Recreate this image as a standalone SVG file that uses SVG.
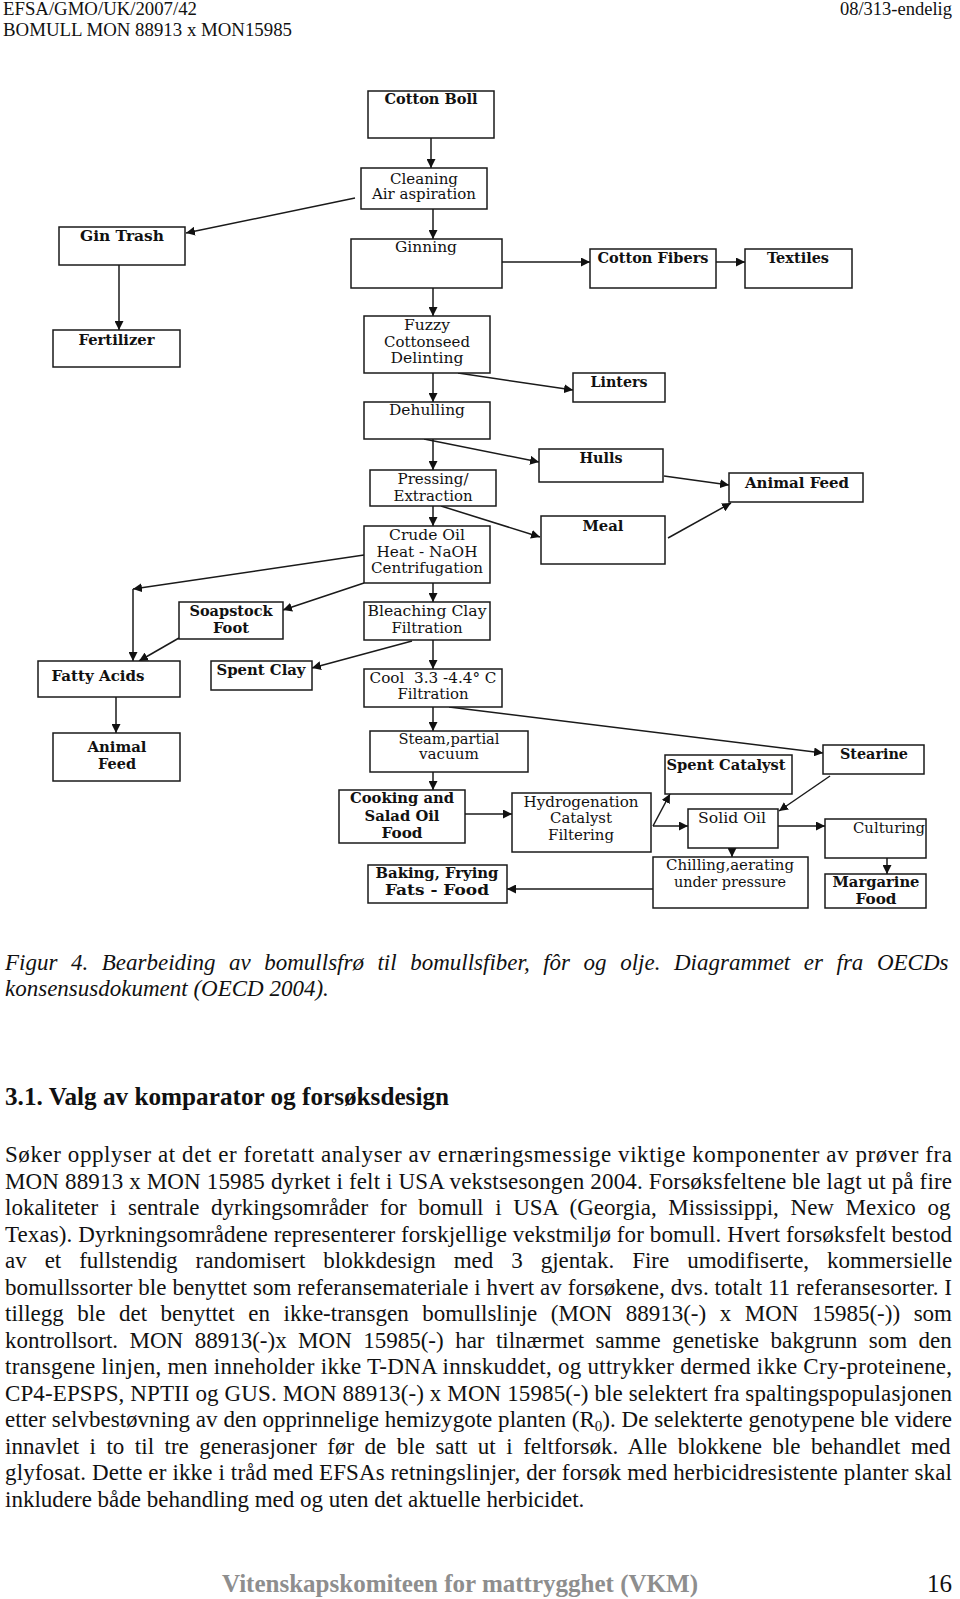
<svg xmlns="http://www.w3.org/2000/svg" width="960" height="1599" viewBox="0 0 960 1599">
<style>
.bx{fill:#fff;stroke:#1a1a1a;stroke-width:1.5}
.r{font-family:"DejaVu Serif",serif;font-size:15px;fill:#111;text-anchor:middle}
.b{font-family:"DejaVu Serif",serif;font-size:15px;font-weight:bold;fill:#111;text-anchor:middle}
.c line{stroke:#1a1a1a;stroke-width:1.5;marker-end:url(#ah)}
.p{font-family:"Liberation Serif","Times New Roman",serif;font-size:23px;fill:#111}
.h{font-family:"Liberation Serif","Times New Roman",serif;font-size:18.5px;fill:#111}
</style>
<defs>
<marker id="ah" viewBox="0 0 10 10" refX="10" refY="5" markerWidth="9" markerHeight="9" markerUnits="userSpaceOnUse" orient="auto"><path d="M0,0L10,5L0,10z" fill="#111"/></marker>
</defs>
<rect width="960" height="1599" fill="#fff"/>
<g id="header">
<text class="h" x="3" y="15" textLength="194" lengthAdjust="spacingAndGlyphs">EFSA/GMO/UK/2007/42</text>
<text class="h" x="3" y="36" textLength="289" lengthAdjust="spacingAndGlyphs">BOMULL MON 88913 x MON15985</text>
<text class="h" x="952" y="15" text-anchor="end">08/313-endelig</text>
</g>
<g class="c" id="connectors">
<line x1="431" y1="138" x2="431" y2="168"/>
<line x1="355" y1="198" x2="186" y2="233"/>
<line x1="433" y1="209" x2="433" y2="239"/>
<line x1="502" y1="262" x2="590" y2="262"/>
<line x1="716" y1="262" x2="745" y2="262"/>
<line x1="433" y1="288" x2="433" y2="316"/>
<line x1="119" y1="265" x2="119" y2="330"/>
<line x1="458" y1="373" x2="573" y2="390"/>
<line x1="433" y1="373" x2="433" y2="402"/>
<line x1="424" y1="439" x2="539" y2="462"/>
<line x1="433" y1="439" x2="433" y2="470"/>
<line x1="441" y1="506" x2="540" y2="537"/>
<line x1="664" y1="476" x2="729" y2="485"/>
<line x1="668" y1="538" x2="731" y2="503"/>
<line x1="433" y1="506" x2="433" y2="526"/>
<line x1="364" y1="555" x2="133" y2="589"/>
<line x1="133" y1="589" x2="133" y2="661"/>
<line x1="364" y1="583" x2="283" y2="610"/>
<line x1="179" y1="638" x2="139" y2="661"/>
<line x1="433" y1="583" x2="433" y2="602"/>
<line x1="412" y1="641" x2="312" y2="668"/>
<line x1="433" y1="640" x2="433" y2="669"/>
<line x1="116" y1="697" x2="116" y2="733"/>
<line x1="433" y1="707" x2="433" y2="731"/>
<line x1="449" y1="707" x2="823" y2="753"/>
<line x1="433" y1="772" x2="433" y2="790"/>
<line x1="465" y1="814" x2="512" y2="814"/>
<line x1="653" y1="826" x2="670" y2="794"/>
<line x1="653" y1="826" x2="688" y2="826"/>
<line x1="830" y1="776" x2="779" y2="811"/>
<line x1="778" y1="826" x2="825" y2="826"/>
<line x1="732" y1="848" x2="732" y2="857"/>
<line x1="653" y1="889" x2="507" y2="889"/>
<line x1="887" y1="858" x2="887" y2="874"/>
</g>
<g id="n-cottonboll"><rect class="bx" x="368" y="91" width="126" height="47"/><text class="b" x="431" y="104" textLength="93" lengthAdjust="spacingAndGlyphs">Cotton Boll</text></g>
<g id="n-cleaning"><rect class="bx" x="361" y="168" width="126" height="41"/><text class="r" x="424" y="183.5" textLength="68" lengthAdjust="spacingAndGlyphs">Cleaning</text><text class="r" x="424" y="199" textLength="104" lengthAdjust="spacingAndGlyphs">Air aspiration</text></g>
<g id="n-gintrash"><rect class="bx" x="59" y="227" width="126" height="38"/><text class="b" x="122" y="241" textLength="84" lengthAdjust="spacingAndGlyphs">Gin Trash</text></g>
<g id="n-fertilizer"><rect class="bx" x="53" y="330" width="127" height="37"/><text class="b" x="116.5" y="345" textLength="76" lengthAdjust="spacingAndGlyphs">Fertilizer</text></g>
<g id="n-ginning"><rect class="bx" x="351" y="239" width="151" height="49"/><text class="r" x="426" y="252" textLength="62" lengthAdjust="spacingAndGlyphs">Ginning</text></g>
<g id="n-cottonfibers"><rect class="bx" x="590" y="249" width="126" height="39"/><text class="b" x="653" y="263" textLength="111" lengthAdjust="spacingAndGlyphs">Cotton Fibers</text></g>
<g id="n-textiles"><rect class="bx" x="745" y="249" width="107" height="39"/><text class="b" x="798" y="263" textLength="62" lengthAdjust="spacingAndGlyphs">Textiles</text></g>
<g id="n-fuzzy"><rect class="bx" x="364" y="316" width="126" height="57"/><text class="r" x="427" y="330" textLength="46" lengthAdjust="spacingAndGlyphs">Fuzzy</text><text class="r" x="427" y="346.5" textLength="86" lengthAdjust="spacingAndGlyphs">Cottonseed</text><text class="r" x="427" y="363" textLength="73" lengthAdjust="spacingAndGlyphs">Delinting</text></g>
<g id="n-linters"><rect class="bx" x="573" y="373" width="92" height="29"/><text class="b" x="619" y="387" textLength="57" lengthAdjust="spacingAndGlyphs">Linters</text></g>
<g id="n-dehulling"><rect class="bx" x="364" y="402" width="126" height="37"/><text class="r" x="427" y="415" textLength="76" lengthAdjust="spacingAndGlyphs">Dehulling</text></g>
<g id="n-hulls"><rect class="bx" x="539" y="449" width="124" height="33"/><text class="b" x="601" y="463" textLength="43" lengthAdjust="spacingAndGlyphs">Hulls</text></g>
<g id="n-animalfeed1"><rect class="bx" x="729" y="473" width="134" height="29"/><text class="b" x="797" y="488" textLength="104" lengthAdjust="spacingAndGlyphs">Animal Feed</text></g>
<g id="n-pressing"><rect class="bx" x="370" y="470" width="126" height="36"/><text class="r" x="433" y="484" textLength="71" lengthAdjust="spacingAndGlyphs">Pressing/</text><text class="r" x="433" y="501" textLength="79" lengthAdjust="spacingAndGlyphs">Extraction</text></g>
<g id="n-meal"><rect class="bx" x="541" y="516" width="124" height="48"/><text class="b" x="603" y="531" textLength="41" lengthAdjust="spacingAndGlyphs">Meal</text></g>
<g id="n-crudeoil"><rect class="bx" x="364" y="526" width="126" height="57"/><text class="r" x="427" y="540" textLength="76" lengthAdjust="spacingAndGlyphs">Crude Oil</text><text class="r" x="427" y="557" textLength="101" lengthAdjust="spacingAndGlyphs">Heat - NaOH</text><text class="r" x="427" y="573" textLength="112" lengthAdjust="spacingAndGlyphs">Centrifugation</text></g>
<g id="n-soapstock"><rect class="bx" x="179" y="602" width="104" height="37"/><text class="b" x="231" y="616" textLength="83" lengthAdjust="spacingAndGlyphs">Soapstock</text><text class="b" x="231" y="633" textLength="36" lengthAdjust="spacingAndGlyphs">Foot</text></g>
<g id="n-bleaching"><rect class="bx" x="364" y="602" width="126" height="38"/><text class="r" x="427" y="616" textLength="119" lengthAdjust="spacingAndGlyphs">Bleaching Clay</text><text class="r" x="427" y="633" textLength="71" lengthAdjust="spacingAndGlyphs">Filtration</text></g>
<g id="n-fattyacids"><rect class="bx" x="38" y="661" width="142" height="36"/><text class="b" x="98" y="681" textLength="93" lengthAdjust="spacingAndGlyphs">Fatty Acids</text></g>
<g id="n-spentclay"><rect class="bx" x="211" y="661" width="101" height="29"/><text class="b" x="261" y="675" textLength="89" lengthAdjust="spacingAndGlyphs">Spent Clay</text></g>
<g id="n-cool"><rect class="bx" x="364" y="669" width="138" height="38"/><text class="r" x="433" y="683" textLength="127" lengthAdjust="spacingAndGlyphs" xml:space="preserve">Cool  3.3 -4.4° C</text><text class="r" x="433" y="699" textLength="71" lengthAdjust="spacingAndGlyphs">Filtration</text></g>
<g id="n-animalfeed2"><rect class="bx" x="53" y="733" width="127" height="48"/><text class="b" x="117" y="752" textLength="59" lengthAdjust="spacingAndGlyphs">Animal</text><text class="b" x="117" y="769" textLength="38" lengthAdjust="spacingAndGlyphs">Feed</text></g>
<g id="n-steam"><rect class="bx" x="370" y="731" width="158" height="41"/><text class="r" x="449" y="744" textLength="101" lengthAdjust="spacingAndGlyphs">Steam,partial</text><text class="r" x="449" y="759" textLength="60" lengthAdjust="spacingAndGlyphs">vacuum</text></g>
<g id="n-cooking"><rect class="bx" x="339" y="790" width="126" height="53"/><text class="b" x="402" y="803" textLength="104" lengthAdjust="spacingAndGlyphs">Cooking and</text><text class="b" x="402" y="821" textLength="75" lengthAdjust="spacingAndGlyphs">Salad Oil</text><text class="b" x="402" y="838" textLength="41" lengthAdjust="spacingAndGlyphs">Food</text></g>
<g id="n-hydrogenation"><rect class="bx" x="512" y="793" width="139" height="59"/><text class="r" x="581" y="807" textLength="115" lengthAdjust="spacingAndGlyphs">Hydrogenation</text><text class="r" x="581" y="823" textLength="62" lengthAdjust="spacingAndGlyphs">Catalyst</text><text class="r" x="581" y="840" textLength="66" lengthAdjust="spacingAndGlyphs">Filtering</text></g>
<g id="n-spentcatalyst"><rect class="bx" x="665" y="755" width="127" height="39"/><text class="b" x="726" y="770" textLength="119" lengthAdjust="spacingAndGlyphs">Spent Catalyst</text></g>
<g id="n-stearine"><rect class="bx" x="823" y="745" width="101" height="29"/><text class="b" x="874" y="759" textLength="68" lengthAdjust="spacingAndGlyphs">Stearine</text></g>
<g id="n-solidoil"><rect class="bx" x="688" y="809" width="90" height="39"/><text class="r" x="732" y="823" textLength="68" lengthAdjust="spacingAndGlyphs">Solid Oil</text></g>
<g id="n-culturing"><rect class="bx" x="825" y="819" width="101" height="39"/><text class="r" x="889" y="833" textLength="72" lengthAdjust="spacingAndGlyphs">Culturing</text></g>
<g id="n-chilling"><rect class="bx" x="653" y="857" width="155" height="51"/><text class="r" x="730" y="870" textLength="128" lengthAdjust="spacingAndGlyphs">Chilling,aerating</text><text class="r" x="730" y="887" textLength="112" lengthAdjust="spacingAndGlyphs">under pressure</text></g>
<g id="n-baking"><rect class="bx" x="368" y="865" width="139" height="38"/><text class="b" x="437" y="878" textLength="123" lengthAdjust="spacingAndGlyphs">Baking, Frying</text><text class="b" x="437" y="895" textLength="104" lengthAdjust="spacingAndGlyphs">Fats - Food</text></g>
<g id="n-margarine"><rect class="bx" x="825" y="874" width="101" height="34"/><text class="b" x="876" y="887" textLength="87" lengthAdjust="spacingAndGlyphs">Margarine</text><text class="b" x="876" y="904" textLength="41" lengthAdjust="spacingAndGlyphs">Food</text></g>
<g id="caption" class="p" font-style="italic">
<text x="5" y="970" word-spacing="7.8">Figur 4. Bearbeiding av bomullsfrø til bomullsfiber, fôr og olje. Diagrammet er fra OECDs</text>
<text x="5" y="996">konsensusdokument (OECD 2004).</text>
</g>
<text id="heading" x="5" y="1105" font-family="Liberation Serif, Times New Roman, serif" font-size="25" font-weight="bold" fill="#111" textLength="444" lengthAdjust="spacingAndGlyphs">3.1. Valg av komparator og forsøksdesign</text>
<g id="body" class="p">
<text x="5" y="1162" textLength="947" lengthAdjust="spacing">Søker opplyser at det er foretatt analyser av ernæringsmessige viktige komponenter av prøver fra</text>
<text x="5" y="1188.5" textLength="947" lengthAdjust="spacing">MON 88913 x MON 15985 dyrket i felt i USA vekstsesongen 2004. Forsøksfeltene ble lagt ut på fire</text>
<text x="5" y="1215" word-spacing="5.9">lokaliteter i sentrale dyrkingsområder for bomull i USA (Georgia, Mississippi, New Mexico og</text>
<text x="5" y="1241.5" textLength="947" lengthAdjust="spacing">Texas). Dyrkningsområdene representerer forskjellige vekstmiljø for bomull. Hvert forsøksfelt bestod</text>
<text x="5" y="1268" word-spacing="12.2">av et fullstendig randomisert blokkdesign med 3 gjentak. Fire umodifiserte, kommersielle</text>
<text x="5" y="1294.5" textLength="947" lengthAdjust="spacing">bomullssorter ble benyttet som referansemateriale i hvert av forsøkene, dvs. totalt 11 referansesorter. I</text>
<text x="5" y="1321" word-spacing="7.8">tillegg ble det benyttet en ikke-transgen bomullslinje (MON 88913(-) x MON 15985(-)) som</text>
<text x="5" y="1347.5" word-spacing="5.7">kontrollsort. MON 88913(-)x MON 15985(-) har tilnærmet samme genetiske bakgrunn som den</text>
<text x="5" y="1374" textLength="947" lengthAdjust="spacing">transgene linjen, men inneholder ikke T-DNA innskuddet, og uttrykker dermed ikke Cry-proteinene,</text>
<text x="5" y="1400.5" textLength="947" lengthAdjust="spacing">CP4-EPSPS, NPTII og GUS. MON 88913(-) x MON 15985(-) ble selektert fra spaltingspopulasjonen</text>
<text x="5" y="1427" textLength="947" lengthAdjust="spacing">etter selvbestøvning av den opprinnelige hemizygote planten (R<tspan font-size="15" dy="4">0</tspan><tspan dy="-4">). De selekterte genotypene ble videre</tspan></text>
<text x="5" y="1453.5" word-spacing="4.75">innavlet i to til tre generasjoner før de ble satt ut i feltforsøk. Alle blokkene ble behandlet med</text>
<text x="5" y="1480" textLength="947" lengthAdjust="spacing">glyfosat. Dette er ikke i tråd med EFSAs retningslinjer, der forsøk med herbicidresistente planter skal</text>
<text x="5" y="1506.5">inkludere både behandling med og uten det aktuelle herbicidet.</text>
</g>
<g id="footer">
<text x="222" y="1592" font-family="Liberation Serif, Times New Roman, serif" font-size="25" font-weight="bold" fill="#8e8e8e" textLength="476" lengthAdjust="spacingAndGlyphs">Vitenskapskomiteen for mattrygghet (VKM)</text>
<text x="952" y="1592" font-family="Liberation Serif, Times New Roman, serif" font-size="25" fill="#111" text-anchor="end">16</text>
</g>
</svg>
